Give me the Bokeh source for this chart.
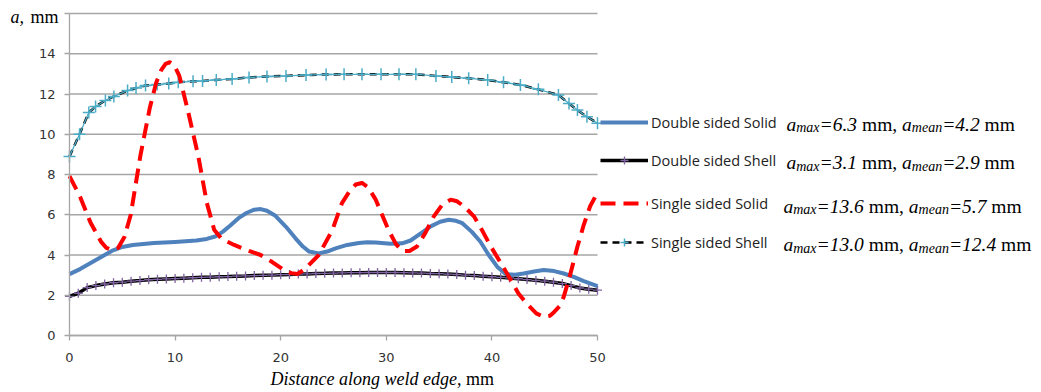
from bokeh.plotting import figure
from bokeh.models import Range1d, FixedTicker, Label, Legend, LegendItem
from bokeh.embed import file_html
from bokeh.resources import INLINE

# ---------------- data ----------------
x_ticks = [0, 10, 20, 30, 40, 50]
y_ticks = [0, 2, 4, 6, 8, 10, 12, 14, 16]

ds_solid_x = [0, 1, 2, 3, 4, 5, 6, 8, 10, 12, 13, 13.8, 14.5, 15.2, 16, 16.8, 17.5, 18.1, 18.7,
              19.5, 20.5, 21.4, 22.1, 22.7, 23.6, 24.4, 25.2, 26.3, 27.4, 28.2, 29, 30.4, 31.5,
              32.3, 33.2, 34.2, 35.1, 35.9, 36.6, 37.2, 38.1, 38.9, 39.7, 40.5, 41.3, 42.2, 43,
              44, 44.9, 45.9, 46.8, 47.8, 48.7, 50]
ds_solid_y = [3.05, 3.3, 3.6, 3.9, 4.2, 4.4, 4.5, 4.6, 4.65, 4.72, 4.8, 4.92, 5.15, 5.45, 5.83,
              6.1, 6.25, 6.28, 6.2, 5.95, 5.4, 4.83, 4.42, 4.17, 4.08, 4.17, 4.33, 4.5, 4.6,
              4.63, 4.62, 4.56, 4.58, 4.72, 5.05, 5.42, 5.65, 5.75, 5.7, 5.58, 5.15, 4.67, 4.0,
              3.42, 3.05, 3.02, 3.08, 3.18, 3.25, 3.2, 3.08, 2.9, 2.7, 2.45]

ds_shell_x = [0, 0.83, 1.67, 2.5, 3.33, 4.17, 5, 5.83, 6.67, 7.5, 8.33, 9.17, 10, 10.83, 11.67,
              12.5, 13.33, 14.17, 15, 15.83, 16.67, 17.5, 18.33, 19.17, 20, 20.83, 21.67, 22.5,
              23.33, 24.17, 25, 25.83, 26.67, 27.5, 28.33, 29.17, 30, 30.83, 31.67, 32.5, 33.33,
              34.17, 35, 35.83, 36.67, 37.5, 38.33, 39.17, 40, 40.83, 41.67, 42.5, 43.33, 44.17,
              45, 45.83, 46.67, 47.5, 48.33, 49.17, 50]
ds_shell_y = [1.94, 2.1, 2.38, 2.48, 2.56, 2.62, 2.65, 2.7, 2.73, 2.77, 2.79, 2.81, 2.83, 2.85,
              2.87, 2.89, 2.9, 2.92, 2.93, 2.95, 2.96, 2.98, 2.99, 3.0, 3.02, 3.03, 3.05, 3.06,
              3.08, 3.09, 3.1, 3.11, 3.12, 3.12, 3.13, 3.13, 3.13, 3.13, 3.12, 3.11, 3.1, 3.08,
              3.07, 3.05, 3.03, 3.0, 2.98, 2.95, 2.92, 2.89, 2.86, 2.82, 2.78, 2.74, 2.7, 2.65,
              2.58, 2.48, 2.36, 2.3, 2.25]

ss_solid_x = [0, 1, 2, 3, 3.5, 4, 4.6, 5.2, 5.8, 6.7, 7.6, 8.2, 8.7, 9.1, 9.5, 9.9, 10.4, 11.2,
              12.2, 13, 13.7, 14.4, 15.6, 17, 18.1, 19.2, 20.3, 21.0, 21.6, 22.3, 23.6, 24.9,
              25.8, 26.5, 27.1, 27.7, 28.3, 29.0, 30.2, 30.9, 31.5, 32.2, 32.9, 33.7, 34.5, 35.3,
              36.1, 36.7, 37.4, 38.3, 39.1, 39.9, 40.9, 41.8, 42.5, 43.3, 44.2, 44.9, 45.5,
              45.9, 46.4, 46.8, 47.4, 48.1, 48.7, 49.3, 50]
ss_solid_y = [7.92, 6.9, 5.6, 4.65, 4.35, 4.25, 4.35, 4.9, 6.0, 8.9, 11.3, 12.55, 13.2, 13.5,
              13.58, 13.45, 12.9, 11.2, 8.9, 6.6, 5.25, 4.8, 4.5, 4.2, 4.0, 3.65, 3.25, 3.1,
              3.06, 3.3, 4.0, 5.25, 6.58, 7.15, 7.5, 7.58, 7.35, 6.75, 5.25, 4.55, 4.2, 4.2,
              4.42, 5.1, 5.92, 6.5, 6.75, 6.67, 6.4, 5.92, 5.2, 4.42, 3.55, 2.75, 2.1, 1.58,
              1.1, 0.92, 0.98, 1.17, 1.45, 1.92, 3.0, 4.42, 5.5, 6.42, 7.1]

ss_shell_x = [0, 0.95, 1.83, 2.47, 3.4, 4.2, 5.5, 6.3, 7.2, 8.3, 9.4, 10.3, 11.7, 12.6, 13.9,
              15.4, 17.0, 18.7, 20.5, 22.4, 24.3, 26.0, 27.7, 29.5, 31.2, 32.8, 34.7, 36.2,
              37.8, 39.6, 41.1, 42.7, 44.4, 46.3, 47.3, 48.1, 49.0, 50]
ss_shell_y = [8.9, 10.0, 11.08, 11.38, 11.68, 11.88, 12.17, 12.3, 12.42, 12.47, 12.52, 12.58,
              12.63, 12.65, 12.7, 12.75, 12.82, 12.87, 12.9, 12.94, 12.97, 12.98, 12.98, 12.98,
              12.98, 12.98, 12.9, 12.84, 12.78, 12.7, 12.58, 12.45, 12.23, 11.95, 11.53, 11.2,
              10.87, 10.55]

series_names = ["Double sided Solid", "Double sided Shell", "Single sided Solid", "Single sided Shell"]
a_max = ["6.3", "3.1", "13.6", "13.0"]
a_mean = ["4.2", "2.9", "5.7", "12.4"]

# ---------------- layout constants (canvas pixels) ----------------
W, H = 1041, 392
X0PX, X1PX = 69, 597        # where x=0 and x=50 sit
Y0PX, Y1PX = 335, 13        # where y=0 and y=16 sit
XS = (X1PX - X0PX) / 50.0
YS = (Y0PX - Y1PX) / 16.0
TXT_FIX = -5                # empirical baseline correction of the SVG text


def dx(px):
    return (px - X0PX) / XS


def dy(py):
    return (Y0PX - py) / YS


BLUE = "#4F81BD"
RED = "#FF0000"
PURPLE = "#8064A2"
CYAN = "#4BACC6"
GRID = "#A6A6A6"

p = figure(width=W, height=H, output_backend="svg", toolbar_location=None,
           x_range=Range1d(dx(0), dx(W)), y_range=Range1d(dy(H), dy(0)),
           min_border=0)
p.outline_line_color = None
p.background_fill_color = "white"
p.border_fill_color = "white"
p.xgrid.visible = False
p.ygrid.visible = False

# horizontal grid lines (span only the data extent 0..50)
p.segment(x0=[x_ticks[0]] * len(y_ticks), x1=[x_ticks[-1]] * len(y_ticks),
          y0=y_ticks, y1=y_ticks, line_color=GRID, line_width=1.3)

for ax in (p.xaxis[0], p.yaxis[0]):
    ax.fixed_location = 0
    ax.axis_line_color = GRID
    ax.axis_line_width = 1.3
    ax.major_tick_line_color = GRID
    ax.major_tick_line_width = 1.3
    ax.major_tick_in = 0
    ax.major_tick_out = 5
    ax.minor_tick_line_color = None
    ax.major_label_text_font = "DejaVu Sans"
    ax.major_label_text_font_size = "13px"
    ax.major_label_text_color = "#333333"

p.xaxis.ticker = FixedTicker(ticks=x_ticks)
p.xaxis.bounds = (x_ticks[0], x_ticks[-1])
p.xaxis.major_label_standoff = 12
p.yaxis.ticker = FixedTicker(ticks=y_ticks)
p.yaxis.bounds = (y_ticks[0], y_ticks[-1])
p.yaxis.major_label_standoff = 9
p.yaxis.major_label_overrides = {16: ""}

# ---------------- series ----------------
r_ss_dash = p.line(ss_shell_x, ss_shell_y, line_color="black", line_width=2.5, line_dash="7 5")
r_ss_line = p.line(ss_shell_x, ss_shell_y, line_color=CYAN, line_width=1.3)
r_ss_mark = p.scatter(ss_shell_x, ss_shell_y, marker="cross", size=12, line_color=CYAN, line_width=1.5)

r_ds_line = p.line(ds_shell_x, ds_shell_y, line_color="black", line_width=3.5)
r_ds_mark = p.scatter(ds_shell_x, ds_shell_y, marker="cross", size=9, line_color=PURPLE, line_width=1.3)

r_blue = p.line(ds_solid_x, ds_solid_y, line_color=BLUE, line_width=4, line_join="round")
r_red = p.line(ss_solid_x, ss_solid_y, line_color=RED, line_width=4, line_dash="15 8",
               line_join="round")

# ---------------- legend (one row each) ----------------
row_centers = [122, 160, 203, 242]
row_renderers = [[r_blue], [r_ds_line, r_ds_mark], [r_red], [r_ss_dash, r_ss_mark]]
for name, rends, c in zip(series_names, row_renderers, row_centers):
    lg = Legend(items=[LegendItem(label=name, renderers=rends)],
                location=(600, H - (c + 10)),
                padding=0, margin=0, spacing=0, glyph_width=48, glyph_height=20,
                label_height=20, label_standoff=3, border_line_color=None,
                background_fill_alpha=0, label_text_font="Open Sans",
                label_text_font_size="14.5px", label_text_color="#222222")
    p.add_layout(lg)

# ---------------- rich legend text (Times metrics) ----------------
IT = {'a': 500, 'm': 722, 'x': 444, 'e': 444, 'n': 500, '=': 675, '.': 250, ',': 250, ' ': 250,
      'D': 722, 'i': 278, 's': 389, 't': 278, 'c': 444, 'l': 278, 'o': 500, 'g': 500,
      'w': 667, 'd': 500}
RM = {'m': 778, ',': 250, ' ': 250}
for d in "0123456789":
    IT[d] = 500
SERIF = "Liberation Serif"


def width(s, table, size):
    return sum(table[ch] for ch in s) * size / 1000.0


def put(txt, px, py, size, style):
    p.add_layout(Label(x=dx(px), y=dy(py + TXT_FIX), text=txt, text_font=SERIF,
                       text_font_style=style, text_font_size=f"{size}px",
                       text_baseline="alphabetic", text_align="left", text_color="black"))


S, SS, SUB = 19.5, 14, 3.5
row_x = [786, 786, 783, 783]
row_base = [128.5, 167, 210.5, 249]
for mx, mn, x0, yb in zip(a_max, a_mean, row_x, row_base):
    x = x0
    put("a", x, yb, S, "italic"); x += width("a", IT, S)
    put("max", x, yb + SUB, SS, "italic"); x += width("max", IT, SS)
    t = "=" + mx
    put(t, x, yb, S, "italic"); x += width(t, IT, S)
    x += width(" ", RM, S)
    put("mm,", x, yb, S, "normal"); x += width("mm,", RM, S) + width(" ", RM, S)
    put("a", x, yb, S, "italic"); x += width("a", IT, S)
    put("mean", x, yb + SUB, SS, "italic"); x += width("mean", IT, SS)
    t = "=" + mn
    put(t, x, yb, S, "italic"); x += width(t, IT, S)
    x += width(" ", RM, S)
    put("mm", x, yb, S, "normal")

# ---------------- axis titles ----------------
AX = 18
xt = "Distance along weld edge,"
put(xt, 270, 383, AX, "italic")
put("mm", 270 + width(xt, IT, AX) + width(" ", RM, AX), 383, AX, "normal")

put("a,", 10, 21.5, AX, "italic")
put("mm", 10 + width("a,", IT, AX) + width(" ", RM, AX) + 2, 21.5, AX, "normal")

open("out.html", "w").write(file_html(p, INLINE))
